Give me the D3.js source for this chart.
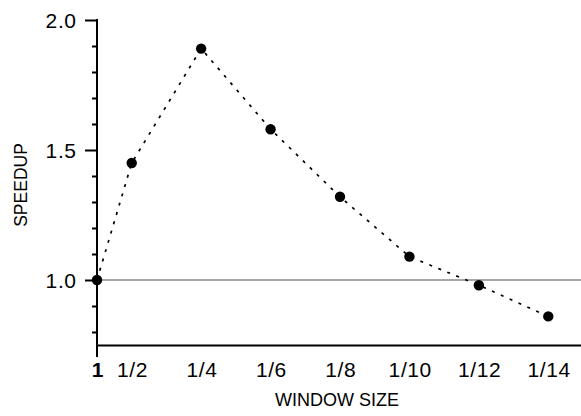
<!DOCTYPE html>
<html>
<head>
<meta charset="utf-8">
<script src="https://cdn.jsdelivr.net/npm/d3@7"></script>
<style>
	body { margin: 0; background: #fff; }
	svg text { font-family: "Liberation Sans", Arial, Helvetica, sans-serif; fill: #000; }
</style>
</head>
<body>
<div id="container"></div>
<script>
// data
var windowDenoms = [1, 2, 4, 6, 8, 10, 12, 14];
var windowLabels = ["1", "1/2", "1/4", "1/6", "1/8", "1/10", "1/12", "1/14"];
var speedups = [1.0, 1.45, 1.89, 1.58, 1.32, 1.09, 0.98, 0.86];
var majorTicks = [1.0, 1.5, 2.0];
var minorTicks = [0.8, 0.9, 1.1, 1.2, 1.3, 1.4, 1.6, 1.7, 1.8, 1.9];

(function()
{
	var width = 581, height = 416;
	var left = 97, right = 583, top = 20, bottom = 345;
	var ls = 0.6; // tick labels are spaced out a little in the original
	var tickFont = "21px";

	var svg = d3.select("#container").append("svg")
		.attr("width", width)
		.attr("height", height);

	var x = d3.scaleLinear().domain([1, 15]).range([left, right]);
	var y = d3.scaleLinear().domain([0.75, 2.0]).range([bottom, top]);

	// reference line at speedup 1.0
	svg.append("line")
		.attr("x1", x(1)).attr("x2", width)
		.attr("y1", y(1)).attr("y2", y(1))
		.style("stroke", "#8a8a8a")
		.style("stroke-width", "1.4px");

	// x axis: labels only, line along the bottom
	var xAxis = svg.append("g")
		.attr("transform", "translate(0," + bottom + ")")
		.call(d3.axisBottom(x)
			.tickValues(windowDenoms)
			.tickSize(0)
			.tickFormat(function(d, i){ return windowLabels[i]; }));
	xAxis.select(".domain").style("stroke", "#000").style("stroke-width", "2px");
	xAxis.selectAll("text")
		.attr("y", 32)
		.attr("dy", null)
		.attr("dx", ls / 2)
		.style("font-size", tickFont)
		.style("letter-spacing", ls + "px")
		.style("font-weight", function(d){ return d === 1 ? "bold" : "normal"; });

	// minor ticks on y
	var yMinor = svg.append("g")
		.attr("transform", "translate(" + left + ",0)")
		.call(d3.axisLeft(y).tickValues(minorTicks).tickSize(5).tickFormat(""));
	yMinor.select(".domain").remove();
	yMinor.selectAll("line").style("stroke-width", "2px");

	// major ticks on y
	var yAxis = svg.append("g")
		.attr("transform", "translate(" + left + ",0)")
		.call(d3.axisLeft(y)
			.tickValues(majorTicks)
			.tickSize(12)
			.tickSizeOuter(0)
			.tickPadding(9)
			.tickFormat(d3.format(".1f")));
	yAxis.select(".domain").remove();
	yAxis.selectAll("line").style("stroke-width", "2px");
	yAxis.selectAll("text")
		.attr("dy", "0.36em")
		.attr("dx", ls)
		.style("font-size", tickFont)
		.style("letter-spacing", ls + "px");

	// y axis line, running past the x axis like a tick at "1"
	svg.append("line")
		.attr("x1", x(1)).attr("x2", x(1))
		.attr("y1", y(2.0) - 1).attr("y2", bottom + 12)
		.style("stroke", "#000")
		.style("stroke-width", "2px");

	// dotted connecting line
	var pts = windowDenoms.map(function(d, i){ return { w: d, s: speedups[i] }; });
	svg.append("path")
		.datum(pts)
		.attr("d", d3.line().x(function(d){ return x(d.w); }).y(function(d){ return y(d.s); }))
		.style("fill", "none")
		.style("stroke", "#000")
		.style("stroke-width", "1.7px")
		.style("stroke-dasharray", "3,6.7");

	// points
	svg.selectAll()
		.data(pts)
		.enter().append("circle")
		.attr("cx", function(d){ return x(d.w); })
		.attr("cy", function(d){ return y(d.s); })
		.attr("r", 5.2)
		.attr("fill", "#000");

	// axis titles
	svg.append("text")
		.attr("x", 337)
		.attr("y", 406)
		.attr("text-anchor", "middle")
		.style("font-size", "18px")
		.text("WINDOW SIZE");

	svg.append("text")
		.attr("transform", "translate(27,185) rotate(-90)")
		.attr("text-anchor", "middle")
		.style("font-size", "17.5px")
		.text("SPEEDUP");
})();
</script>
</body>
</html>
